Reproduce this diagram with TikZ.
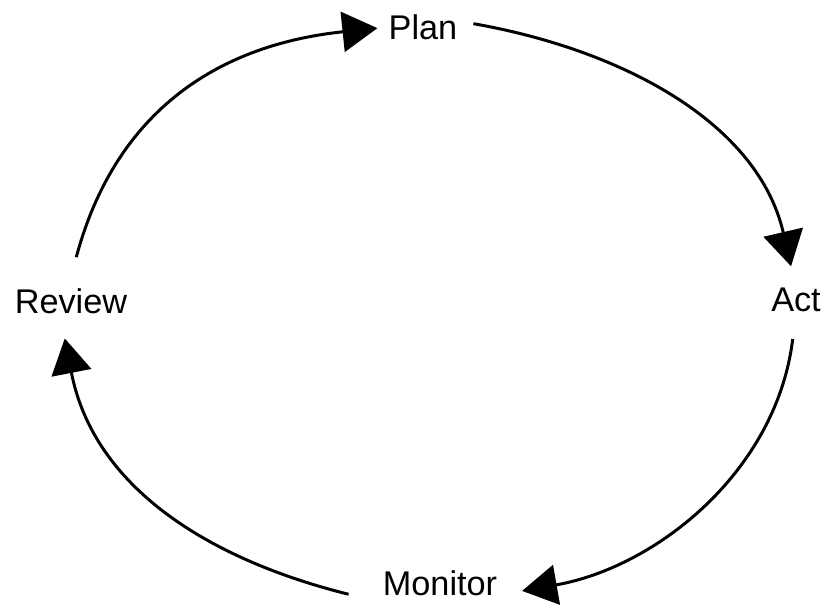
\documentclass[tikz,border=0pt]{standalone}
\usepackage{fontspec}
\setmainfont{Liberation Sans}
\usetikzlibrary{arrows.meta}

\begin{document}
\begin{tikzpicture}[x=0.02cm, y=0.02cm,
  stage/.style={inner sep=0pt, font=\fontsize{19.5}{23}\selectfont},
  loopline/.style={line width=1.7pt, -{Triangle[length=0.7cm, width=0.8cm]}}]
\useasboundingbox (0,0) rectangle (823,610);

\node[stage] (plan) at (423, 583) {Plan};
\node[stage] (act) at (796, 310) {Act};
\node[stage] (monitor) at (440, 27) {Monitor};
\node[stage] (review) at (71, 309) {Review};

\draw[loopline, shorten <=0.64cm, shorten >=0.22cm] ([xshift=-0.06cm]review.north) to[out=75, in=186, looseness=1.1] (plan.west);
\draw[loopline, shorten <=0.32cm, shorten >=0.44cm] (plan.10) to[out=-10, in=103] (act.north);
\draw[loopline, shorten <=0.54cm, shorten >=0.5cm] (act.south) to[out=263, in=10] (monitor.base east);
\draw[loopline, shorten <=0.7cm, shorten >=0.5cm] ([yshift=-0.15cm]monitor.base west) to[out=166, in=-79, looseness=1.05] ([xshift=-0.22cm]review.south);

\end{tikzpicture}
\end{document}
